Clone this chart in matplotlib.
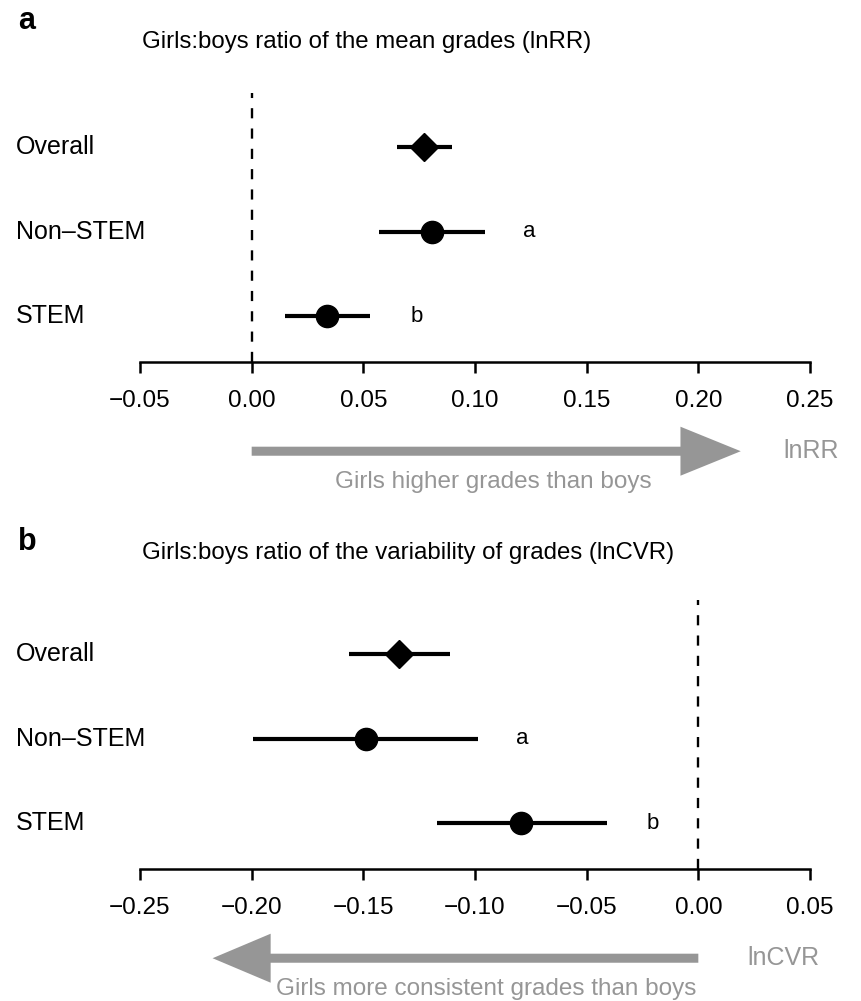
import matplotlib
matplotlib.use("Agg")
import matplotlib.pyplot as plt
from matplotlib.patches import FancyArrow
from matplotlib.transforms import blended_transform_factory

plt.rcParams['font.family'] = ['Liberation Sans', 'DejaVu Sans']

# ---------------- data ----------------
groups = ["Overall", "Non\u2013STEM", "STEM"]
rows = [3, 2, 1]

lnrr_est = [0.0772, 0.0809, 0.0339]
lnrr_lo = [0.0651, 0.0569, 0.0149]
lnrr_hi = [0.0899, 0.1047, 0.0530]
lnrr_letters = ["", "a", "b"]
lnrr_letter_x = [None, 0.1245, 0.0738]
lnrr_ticks = [-0.05, 0.00, 0.05, 0.10, 0.15, 0.20, 0.25]

lncvr_est = [-0.1339, -0.1490, -0.0792]
lncvr_lo = [-0.1564, -0.1993, -0.1171]
lncvr_hi = [-0.1111, -0.0985, -0.0408]
lncvr_letters = ["", "a", "b"]
lncvr_letter_x = [None, -0.0787, -0.0205]
lncvr_ticks = [-0.25, -0.20, -0.15, -0.10, -0.05, 0.00, 0.05]

W, H = 861, 1001
fig = plt.figure(figsize=(W / 100, H / 100), dpi=100)
GRAY = '#969696'


def forest(top_px, est, lo, hi, letters, letter_x, ticks, arrow_to, head_len,
           arrow_lab, arrow_lab_x, msg, msg_x, title, title_base, tag, tag_base):
    bottom_px = top_px + 269
    ax = fig.add_axes([140 / W, 1 - bottom_px / H, 670 / W, 269 / H])
    ax.set_xlim(ticks[0], ticks[-1])
    ax.set_ylim(0.456, 3.64)
    for s in ['left', 'right', 'top']:
        ax.spines[s].set_visible(False)
    ax.spines['bottom'].set_linewidth(1.8)
    ax.set_yticks([])
    ax.set_xticks(ticks)
    ax.set_xticklabels(['%.2f' % t if t >= 0 else '\u2212%.2f' % abs(t) for t in ticks])
    ax.tick_params(axis='x', length=8, width=1.8, pad=12.5, labelsize=17.5)
    ax.patch.set_visible(False)

    ax.axvline(0, color='k', lw=1.7, ls=(0, (4.3, 4.3)), zorder=1)

    err = [[e - l for e, l in zip(est, lo)], [h - e for e, h in zip(est, hi)]]
    ax.errorbar(est, rows, xerr=err, fmt='none', ecolor='k', elinewidth=3, capsize=0, zorder=2)
    ax.plot(est[0], rows[0], 'D', ms=14, color='k', zorder=3)
    ax.plot(est[1:], rows[1:], 'o', ms=16, color='k', zorder=3, ls='none')

    for r, lt, lx in zip(rows, letters, letter_x):
        if lt:
            ax.text(lx, r, lt, fontsize=16, ha='center', va='center')

    tr = blended_transform_factory(fig.transFigure, ax.transData)
    for r, g in zip(rows, groups):
        ax.text(16 / W, r, g, transform=tr, fontsize=18, ha='left', va='center')

    # direction arrow under the axis
    ay = -0.6
    ax.add_patch(FancyArrow(0, ay, arrow_to, 0, width=0.107, head_width=0.58,
                            head_length=head_len, length_includes_head=True,
                            color=GRAY, lw=0, clip_on=False))
    ax.text(arrow_lab_x, ay, arrow_lab, color=GRAY, fontsize=18, ha='left', va='center', clip_on=False)
    ax.text(msg_x, -0.97, msg, color=GRAY, fontsize=17.5, ha='center', va='center', clip_on=False)

    fig.text(142 / W, 1 - title_base / H, title, fontsize=17.3, ha='left', va='baseline')
    fig.text(18 / W, 1 - tag_base / H, tag, fontsize=22, fontweight='bold', ha='left', va='baseline')
    return ax


forest(93, lnrr_est, lnrr_lo, lnrr_hi, lnrr_letters, lnrr_letter_x, lnrr_ticks,
       0.219, 0.027, "lnRR", 0.238, "Girls higher grades than boys", 0.108,
       "Girls:boys ratio of the mean grades (lnRR)", 48, "a", 29)

forest(600, lncvr_est, lncvr_lo, lncvr_hi, lncvr_letters, lncvr_letter_x, lncvr_ticks,
       -0.2175, 0.026, "lnCVR", 0.022, "Girls more consistent grades than boys", -0.0948,
       "Girls:boys ratio of the variability of grades (lnCVR)", 559, "b", 550)

fig.savefig("out.png", dpi=100, facecolor='white')
